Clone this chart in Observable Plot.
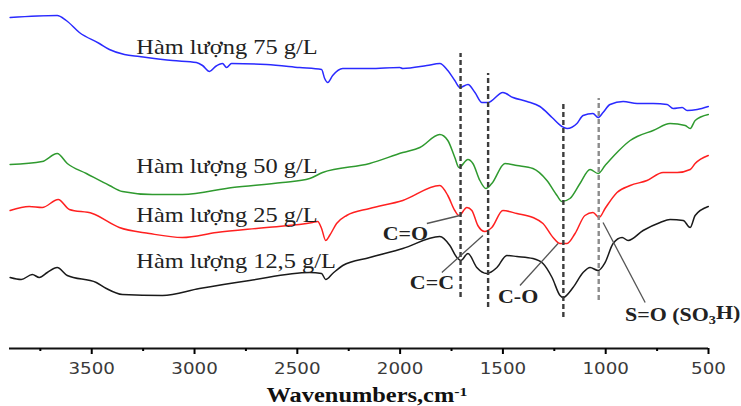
<!DOCTYPE html>
<html><head><meta charset="utf-8">
<script src="https://cdn.jsdelivr.net/npm/d3@7"></script>
<script src="https://cdn.jsdelivr.net/npm/@observablehq/plot@0.6"></script>
<style>body{margin:0;background:#fff;} #chart svg{display:block;background:#fff;}</style>
</head><body><div id="chart"></div>
<script>
// ---- data (wavenumber cm-1, offset transmittance a.u.) ----
const seriesNames = ["Hàm lượng 75 g/L", "Hàm lượng 50 g/L", "Hàm lượng 25 g/L", "Hàm lượng 12,5 g/L"];

const spectrum75 = [[3897,331],[3668,333],[3624,328],[3560,316],[3463,305],[3414,299],[3341,294],[3268,292],[3107,288],[2991,286],[2961,283],[2927,277],[2898,282],[2864,285],[2844,281],[2820,285],[2650,284],[2489,281],[2382,279],[2367,270],[2352,266],[2328,273],[2279,280],[2148,280],[2002,281],[1987,280],[1870,283],[1807,285],[1768,278],[1734,268],[1709,261],[1670,264],[1636,256],[1602,246],[1573,246],[1500,256],[1451,251],[1383,247],[1320,242],[1261,231],[1213,222],[1188,220],[1140,225],[1110,233],[1062,235],[1037,231],[1013,236],[979,244],[915,247],[847,245],[769,245],[701,244],[672,240],[628,241],[604,238],[555,239],[501,242]];

const spectrum50 = [[3897,184],[3741,187],[3668,195],[3619,185],[3526,175],[3414,163],[3351,157],[3205,154],[3059,154],[2815,161],[2572,166],[2440,170],[2377,176],[2148,185],[1987,196],[1904,201],[1807,214],[1768,208],[1734,191],[1714,181],[1670,189],[1646,185],[1612,168],[1583,160],[1554,165],[1490,185],[1432,183],[1354,180],[1286,168],[1237,153],[1213,147],[1174,150],[1125,165],[1076,179],[1037,175],[1003,183],[945,196],[881,208],[847,212],[769,218],[687,225],[613,223],[589,220],[565,228],[501,234]];

const spectrum25 = [[3897,138],[3804,142],[3741,141],[3663,149],[3609,139],[3497,135],[3366,121],[3220,115],[3059,111],[2893,116],[2650,121],[2426,126],[2401,127],[2382,120],[2362,108],[2343,113],[2309,125],[2260,133],[2148,140],[1987,148],[1807,163],[1768,153],[1734,138],[1714,133],[1675,141],[1651,138],[1622,123],[1588,117],[1554,121],[1500,138],[1432,135],[1354,131],[1305,125],[1256,111],[1222,105],[1188,105],[1149,115],[1101,133],[1062,136],[1032,131],[1003,140],[945,156],[881,163],[799,168],[721,176],[652,176],[589,179],[565,185],[501,193]];

const spectrum12 = [[3897,71],[3843,69],[3789,74],[3755,71],[3716,76],[3668,81],[3619,73],[3478,66],[3429,60],[3351,54],[3156,53],[2976,60],[2732,68],[2440,76],[2382,75],[2362,69],[2328,75],[2279,83],[2148,91],[1987,100],[1807,112],[1758,103],[1724,91],[1705,88],[1670,95],[1627,81],[1578,75],[1529,81],[1481,93],[1432,92],[1354,90],[1305,85],[1261,71],[1222,53],[1208,51],[1159,61],[1110,76],[1076,81],[1037,78],[1003,86],[964,105],[920,111],[891,108],[818,118],[735,126],[687,129],[623,128],[589,121],[565,133],[501,142]];

const peakWavenumbers = [1706, 1572, 1206, 1034];
const peakTop = [295, 275, 245, 250];
const peakBottom = [51, 41, 31, 48];

const bandLabels = ["C=O", "C=C", "C-O", "S=O (SO3H)"];
const majorTicks = [3500, 3000, 2500, 2000, 1500, 1000, 500];
const minorTicks = [3750, 3250, 2750, 2250, 1750, 1250, 750];
const axisTitle = "Wavenumbers,cm-1";

// ---- layout (annotation anchors in data coordinates) ----
const seriesLabelX = 3283;
const seriesLabelY = [295, 176, 127, 81];
const bandLabelX = [2085, 1953, 1524, 906];
const bandLabelY = [109, 60, 46, 28];
const leaders = [
  {x1: 1870, y1: 125, x2: 1709, y2: 133},
  {x1: 1797, y1: 76, x2: 1597, y2: 113},
  {x1: 1417, y1: 63, x2: 1232, y2: 105},
  {x1: 1013, y1: 126, x2: 808, y2: 46}
];

const toRows = arr => arr.map(([w, v]) => ({w, v}));
const lineColors = ["#2a2aff", "#2f9a2f", "#ff2020", "#1a1a1a"];
const spectra = [spectrum75, spectrum50, spectrum25, spectrum12];
const peaks = peakWavenumbers.map((w, i) => ({w, top: peakTop[i], bottom: peakBottom[i], i}));

const chart = Plot.plot({
  width: 741, height: 406,
  marginLeft: 9, marginRight: 33, marginTop: 0, marginBottom: 58,
  x: {domain: [3900, 500]},
  y: {domain: [0, 348], axis: null},
  style: {background: "#fff"},
  marks: [
    ...spectra.map((s, i) => Plot.line(toRows(s), {x: "w", y: "v", stroke: lineColors[i], strokeWidth: 1.5, curve: "monotone-x"})),
    Plot.ruleX(peaks, {x: "w", y1: "bottom", y2: "top", stroke: d => d.i === 3 ? "#8c8c8c" : "#3c3c3c", strokeWidth: 2.4, strokeDasharray: "5,3"}),
    Plot.link(leaders, {x1: "x1", y1: "y1", x2: "x2", y2: "y2", stroke: "#555", strokeWidth: 1.3}),
    Plot.text(seriesNames, {x: () => seriesLabelX, y: (d, i) => seriesLabelY[i], text: d => d, textAnchor: "start", lineAnchor: "bottom", fontFamily: "Liberation Serif", fontSize: 20, fill: "#222", ariaLabel: "series-labels"}),
    Plot.text(bandLabels, {x: (d, i) => bandLabelX[i], y: (d, i) => bandLabelY[i], text: d => d, textAnchor: "start", lineAnchor: "bottom", fontFamily: "Liberation Serif", fontWeight: "bold", fontSize: 18, fill: "#222", ariaLabel: "band-labels"}),
    Plot.ruleY([0], {stroke: "#111", strokeWidth: 2.2}),
    Plot.axisX({ticks: majorTicks, tickSize: 6, tickPadding: 9, strokeWidth: 2, fontSize: 15, fontFamily: "DejaVu Sans", fill: "#3a3a3a", tickFormat: d => String(d), label: null}),
    Plot.axisX({ticks: minorTicks, tickSize: 3, strokeWidth: 2, tickFormat: () => "", label: null}),
    Plot.text([axisTitle], {frameAnchor: "bottom", dx: 8, dy: 53, text: d => d, lineAnchor: "bottom", fontFamily: "Liberation Serif", fontWeight: "bold", fontSize: 20, fill: "#111", ariaLabel: "axis-title"})
  ]
});

// stretch text horizontally like the reference
chart.querySelectorAll("text").forEach(t => {
  const tr = t.getAttribute("transform") || "";
  t.setAttribute("transform", (tr + " scale(1.22,1)").trim());
});
// superscript / subscript
const NS = "http://www.w3.org/2000/svg";
chart.querySelectorAll("text").forEach(t => {
  if (t.textContent === axisTitle) {
    t.textContent = "Wavenumbers,cm";
    const s = document.createElementNS(NS, "tspan");
    s.setAttribute("dy", "-0.45em"); s.setAttribute("font-size", "0.65em"); s.textContent = "-1";
    t.appendChild(s);
  } else if (t.textContent === "S=O (SO3H)") {
    t.textContent = "S=O (SO";
    const s = document.createElementNS(NS, "tspan");
    s.setAttribute("dy", "0.3em"); s.setAttribute("font-size", "0.65em"); s.textContent = "3";
    const h = document.createElementNS(NS, "tspan");
    h.setAttribute("dy", "-0.3em"); h.textContent = "H)";
    t.appendChild(s); t.appendChild(h);
  }
});
document.getElementById("chart").appendChild(chart);
</script>
</body></html>
